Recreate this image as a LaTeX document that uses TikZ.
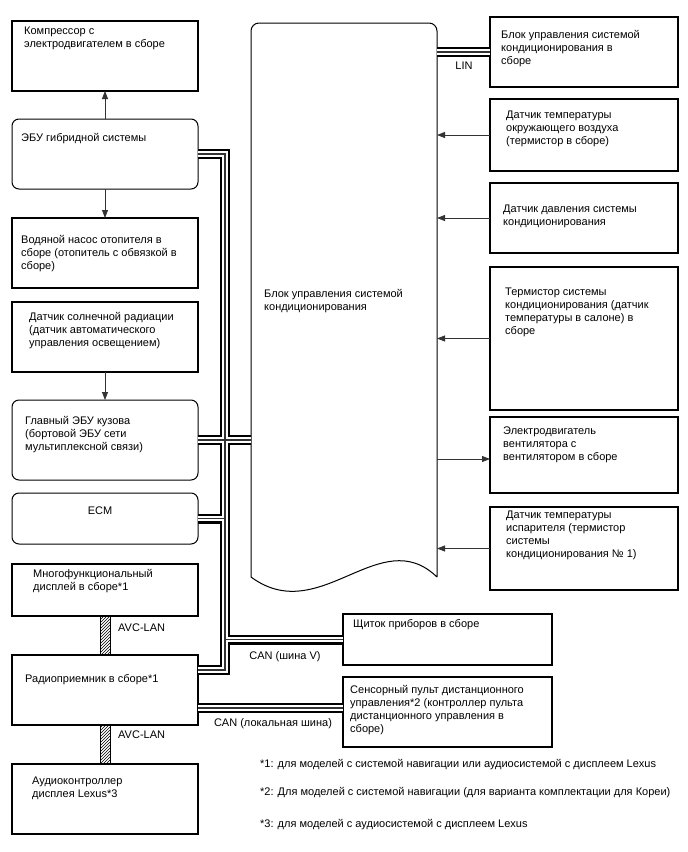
\documentclass[tikz,border=0pt]{standalone}
\usepackage{fontspec}
\setmainfont{Liberation Sans}
\usetikzlibrary{arrows.meta, positioning, patterns}

\begin{document}
\begin{tikzpicture}[
        x=1pt, y=-1pt,
        font=\fontsize{11}{13}\selectfont,
        unit/.style={rectangle, draw, line width=1.1pt, minimum width=186pt, inner sep=0pt, outer sep=0pt},
        ecu/.style={unit, rounded corners=7pt, line width=1pt},
        sensor/.style={unit, minimum width=188pt},
        txt/.style={anchor=north west, align=left, inner sep=0pt, execute at begin node=\strut},
        arrow/.style={draw=black!80, line width=0.8pt, -{Triangle[length=8pt,width=6pt]}},
        avc/.style={draw, line width=0.6pt, pattern=north east lines},
        note/.style={anchor=west, inner sep=0pt}
    ]
    \useasboundingbox (0,0) rectangle (688,852);

    % left column
    \node (comp) [unit, minimum height=70pt] at (105,56) {};
    \node (hyb) [ecu, minimum height=70pt, below=28pt of comp] {};
    \node (pump) [unit, minimum height=70pt, below=29pt of hyb] {};
    \node (sun) [unit, minimum height=70pt, below=14pt of pump] {};
    \node (body) [ecu, minimum height=80pt, below=28pt of sun] {};
    \node (ecm) [ecu, minimum height=51pt, below=13pt of body] {};
    \node (multi) [unit, minimum height=52pt, below=20pt of ecm] {};
    \node (radio) [unit, minimum height=70pt, below=39pt of multi] {};
    \node (audio) [unit, minimum height=70pt, below=39pt of radio] {};

    \node (comp-t) [txt] at ([shift={(12,6)}]comp.north west) {Компрессор с\\электродвигателем в сборе};
    \node (hyb-t) [txt] at ([shift={(9,13)}]hyb.north west) {ЭБУ гибридной системы};
    \node (pump-t) [txt] at ([shift={(9,17)}]pump.north west) {Водяной насос отопителя в\\сборе (отопитель с обвязкой в\\сборе)};
    \node (sun-t) [txt] at ([shift={(17,10)}]sun.north west) {Датчик солнечной радиации\\(датчик автоматического\\управления освещением)};
    \node (body-t) [txt] at ([shift={(13,16)}]body.north west) {Главный ЭБУ кузова\\(бортовой ЭБУ сети\\мультиплексной связи)};
    \node (ecm-t) [txt, anchor=north] at ([shift={(-5,12)}]ecm.north) {ECM};
    \node (multi-t) [txt] at ([shift={(21,5)}]multi.north west) {Многофункциональный\\дисплей в сборе*1};
    \node (radio-t) [txt] at ([shift={(13,18)}]radio.north west) {Радиоприемник в сборе*1};
    \node (audio-t) [txt] at ([shift={(20,13)}]audio.north west) {Аудиоконтроллер\\дисплея Lexus*3};

    % air conditioning amplifier
    \node (acu) [minimum width=186pt, minimum height=554pt, inner sep=0pt, outer sep=0pt, anchor=north west] at (251,23) {};
    \draw [line width=1pt] (acu.south east) .. controls (380,522) and (320,628) .. (acu.south west)
        [rounded corners=8pt] -- (acu.north west) -- (acu.north east) -- (acu.south east);
    \node (acu-t) [txt] at ([shift={(13,266)}]acu.north west) {Блок управления системой\\кондиционирования};

    % right column
    \node (hvac) [sensor, minimum height=70pt] at (584,52) {};
    \node (amb) [sensor, minimum height=72pt, below=12pt of hvac] {};
    \node (press) [sensor, minimum height=70pt, below=12pt of amb] {};
    \node (therm) [sensor, minimum height=143pt, below=14pt of press] {};
    \node (fan) [sensor, minimum height=76pt, below=7pt of therm] {};
    \node (evap) [sensor, minimum height=83pt, below=14pt of fan] {};

    \node (hvac-t) [txt] at ([shift={(11,13)}]hvac.north west) {Блок управления системой\\кондиционирования в\\сборе};
    \node (amb-t) [txt] at ([shift={(16,12)}]amb.north west) {Датчик температуры\\окружающего воздуха\\(термистор в сборе)};
    \node (press-t) [txt] at ([shift={(13,22)}]press.north west) {Датчик давления системы\\кондиционирования};
    \node (therm-t) [txt] at ([shift={(15,21)}]therm.north west) {Термистор системы\\кондиционирования (датчик\\температуры в салоне) в\\сборе};
    \node (fan-t) [txt] at ([shift={(13,10)}]fan.north west) {Электродвигатель\\вентилятора с\\вентилятором в сборе};
    \node (evap-t) [txt] at ([shift={(16,4)}]evap.north west) {Датчик температуры\\испарителя (термистор\\системы\\кондиционирования № 1)};

    % bottom middle
    \node (dash) [unit, minimum width=209pt, minimum height=51pt, anchor=north west] at (343,614) {};
    \node (touch) [unit, minimum width=209pt, minimum height=70pt, below=12pt of dash] {};
    \node (dash-t) [txt] at ([shift={(10,4)}]dash.north west) {Щиток приборов в сборе};
    \node (touch-t) [txt] at ([shift={(7,8)}]touch.north west) {Сенсорный пульт дистанционного\\управления*2 (контроллер пульта\\дистанционного управления в\\сборе)};

    % buses
    \coordinate (bx) at (225,0);
    \coordinate (rv) at ([yshift=20pt]radio.east);
    \coordinate (rl) at ([yshift=-18pt]radio.east);
    \foreach \w/\c in {10pt/black, 5.6pt/white, 1.2pt/black!80} {
        \draw [line width=\w, \c] (hyb.east) -- (hyb.east -| bx) -- (bx |- rv) -- (rv);
        \draw [line width=\w, \c] (body.east) -- (body.east -| acu.west);
        \draw [line width=\w, \c] (ecm.east) -- (ecm.east -| bx);
        \draw [line width=\w, \c] (dash.west) -- (dash.west -| bx);
        \draw [line width=\w, \c] (rl) -- (rl -| touch.west);
        \draw [line width=\w, \c] (acu.east |- hvac.west) -- (hvac.west);
    }
    \node (lin) at (464,66) {LIN};
    \node (canv) at (285,657) {CAN (шина V)};
    \node (canl) at (273,724) {CAN (локальная шина)};

    % avc-lan
    \draw [avc] ([xshift=-5pt]multi.south) rectangle ([xshift=5pt]radio.north);
    \draw [avc] ([xshift=-5pt]radio.south) rectangle ([xshift=5pt]audio.north);
    \node (avc1) [note] at (118,628) {AVC-LAN};
    \node (avc2) [note] at (118,735) {AVC-LAN};

    % signals
    \draw [arrow] (hyb.north) -- (comp.south);
    \draw [arrow] (hyb.south) -- (pump.north);
    \draw [arrow] (sun.south) -- (body.north);
    \draw [arrow] (amb.west) -- (amb.west -| acu.east);
    \draw [arrow] (press.west) -- (press.west -| acu.east);
    \draw [arrow] (therm.west) -- (therm.west -| acu.east);
    \draw [arrow] ([yshift=-4pt]fan.west -| acu.east) -- ([yshift=-4pt]fan.west);
    \draw [arrow] (evap.west) -- (evap.west -| acu.east);

    % notes
    \node (fn1) [note] at (260,765) {*1: для моделей с системой навигации или аудиосистемой с дисплеем Lexus};
    \node (fn2) [note] at (260,793) {*2: Для моделей с системой навигации (для варианта комплектации для Кореи)};
    \node (fn3) [note] at (260,825) {*3: для моделей с аудиосистемой с дисплеем Lexus};

\end{tikzpicture}
\end{document}
